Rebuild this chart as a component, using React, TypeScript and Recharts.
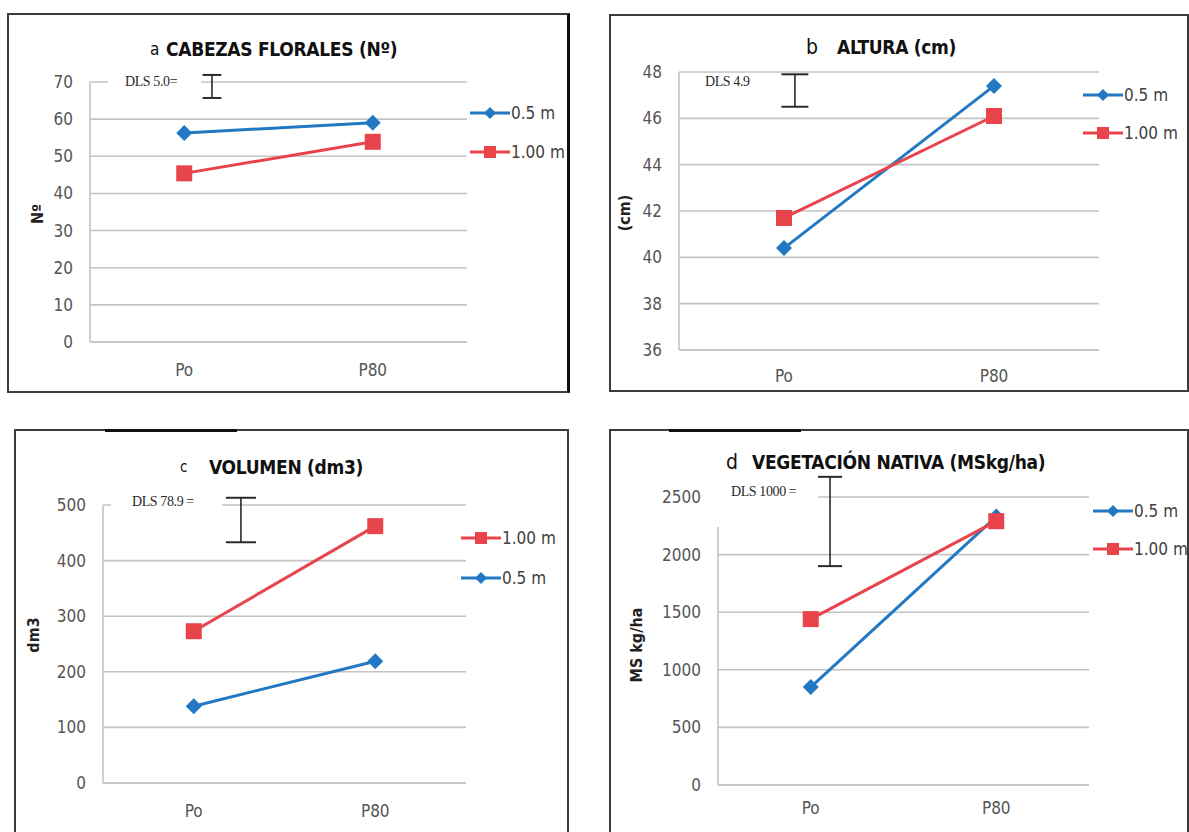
import { LineChart, Line, XAxis, YAxis, CartesianGrid, ReferenceLine } from 'recharts';

const periods = ['Po', 'P80'];

// a - cabezas florales (Nº)
const cabezas05 = [56.3, 59.0];
const cabezas100 = [45.4, 53.9];
const cabezasTicks = [0, 10, 20, 30, 40, 50, 60, 70];
const cabezasDls = [65.7, 71.9];

// b - altura (cm)
const altura05 = [40.4, 47.4];
const altura100 = [41.7, 46.1];
const alturaTicks = [36, 38, 40, 42, 44, 46, 48];
const alturaDls = [46.5, 47.9];

// c - volumen (dm3)
const volumen05 = [138, 219];
const volumen100 = [273, 462];
const volumenTicks = [0, 100, 200, 300, 400, 500];
const volumenDls = [433, 513];

// d - vegetación nativa (MS kg/ha)
const vegetacion05 = [850, 2330];
const vegetacion100 = [1440, 2290];
const vegetacionTicks = [0, 500, 1000, 1500, 2000, 2500];
const vegetacionDls = [1900, 2675];

const BLUE = '#2278c3';
const RED = '#e8444c';
const GRID = '#c4c4c4';
const SANS = '"Liberation Sans Narrow", "DejaVu Sans Condensed", "Liberation Sans", sans-serif';
const SERIF = '"Liberation Serif", "DejaVu Serif", serif';

type Shape = 'diamond' | 'square';
interface Series { key: string; name: string; values: number[]; color: string; shape: Shape }

const s05 = (values: number[]): Series => ({ key: 's05', name: '0.5 m', values, color: BLUE, shape: 'diamond' });
const s100 = (values: number[]): Series => ({ key: 's100', name: '1.00 m', values, color: RED, shape: 'square' });

function marker(shape: Shape, color: string, cx: number, cy: number, r: number, key?: string) {
  if (shape === 'diamond') {
    return <path key={key} d={`M${cx},${cy - r}L${cx + r},${cy}L${cx},${cy + r}L${cx - r},${cy}Z`} fill={color} />;
  }
  return <rect key={key} x={cx - r} y={cy - r} width={r * 2} height={r * 2} fill={color} />;
}

interface PanelProps {
  box: { left: number; top: number; width: number; height: number };
  margin: { top: number; right: number; bottom: number };
  yWidth: number;
  xTickMargin: number;
  ticks: number[];
  series: Series[];
  letter: string; letterX: number; letterSize: number;
  title: string; titleX: number; titleY: number;
  yLabel: string; yLabelX: number; yLabelY: number;
  legendX: number; legendY: number[];
  dlsText: string; dlsX: number; dlsY: number; dlsCover?: number[];
  dls: number[]; dlsAt: number; capHalf: number;
  axisTop?: number;
  topStripe?: number[];
  thickRight?: boolean;
}

function Panel(p: PanelProps) {
  const data = periods.map((period, i) => {
    const row: Record<string, number | string> = { x: i + 0.5, period };
    p.series.forEach(s => { row[s.key] = s.values[i]; });
    return row;
  });
  const { box } = p;
  const open = box.top > 400; // lower panels run off the page

  return (
    <>
      <div style={{ position: 'absolute', left: box.left, top: box.top }}>
        <LineChart
          width={box.width}
          height={box.height}
          data={data}
          margin={{ top: p.margin.top, right: p.margin.right, bottom: 0, left: 0 }}
        >
          <CartesianGrid vertical={false} stroke={GRID} strokeWidth={1.6} />
          <XAxis
            type="number"
            dataKey="x"
            domain={[0, 2]}
            ticks={[0.5, 1.5]}
            tickFormatter={(v: number) => periods[Math.floor(v)]}
            height={p.margin.bottom}
            tickLine={false}
            tickSize={0}
            tickMargin={p.xTickMargin}
            axisLine={{ stroke: GRID, strokeWidth: 1.6 }}
            tick={{ fill: '#555', fontSize: 17, fontFamily: SANS }}
          />
          <YAxis
            type="number"
            domain={[p.ticks[0], p.ticks[p.ticks.length - 1]]}
            ticks={p.ticks}
            interval={0}
            width={p.yWidth}
            tickLine={false}
            tickSize={0}
            tickMargin={17}
            axisLine={p.axisTop === undefined ? { stroke: GRID, strokeWidth: 1.6 } : false}
            tick={{ fill: '#555', fontSize: 17, fontFamily: SANS }}
          />
          {p.axisTop !== undefined && (
            <ReferenceLine
              segment={[{ x: 0, y: p.ticks[0] }, { x: 0, y: p.axisTop }]}
              stroke={GRID}
              strokeWidth={1.6}
              ifOverflow="visible"
            />
          )}
          <ReferenceLine segment={[{ x: p.dlsAt, y: p.dls[0] }, { x: p.dlsAt, y: p.dls[1] }]} stroke="#2a2a2a" strokeWidth={1.6} ifOverflow="visible" />
          <ReferenceLine segment={[{ x: p.dlsAt - p.capHalf, y: p.dls[0] }, { x: p.dlsAt + p.capHalf, y: p.dls[0] }]} stroke="#2a2a2a" strokeWidth={2} ifOverflow="visible" />
          <ReferenceLine segment={[{ x: p.dlsAt - p.capHalf, y: p.dls[1] }, { x: p.dlsAt + p.capHalf, y: p.dls[1] }]} stroke="#2a2a2a" strokeWidth={2} ifOverflow="visible" />
          {p.series.map(s => (
            <Line
              key={s.key}
              type="linear"
              dataKey={s.key}
              name={s.name}
              stroke={s.color}
              strokeWidth={3}
              isAnimationActive={false}
              activeDot={false}
              dot={(d: any) => marker(s.shape, s.color, d.cx, d.cy, 8, `${s.key}-${d.index}`)}
            />
          ))}
        </LineChart>
      </div>

      {/* frame */}
      <div
        style={{
          position: 'absolute',
          left: box.left - 1,
          top: box.top - 1,
          width: box.width - 2,
          height: open ? box.height + 20 : box.height - 2,
          border: '2px solid #3c3c3c',
          borderRight: p.thickRight ? '3px solid #111' : '2px solid #3c3c3c',
          pointerEvents: 'none',
        }}
      />
      {p.topStripe && (
        <div style={{ position: 'absolute', left: p.topStripe[0], top: box.top - 1, width: p.topStripe[1] - p.topStripe[0], height: 3, background: '#111' }} />
      )}

      {/* title */}
      <div style={{ position: 'absolute', left: p.letterX, top: p.titleY - 12, lineHeight: '24px', fontFamily: SANS, fontSize: p.letterSize, color: '#111' }}>{p.letter}</div>
      <div style={{ position: 'absolute', left: p.titleX, top: p.titleY - 12, lineHeight: '24px', whiteSpace: 'nowrap', fontFamily: SANS, fontSize: 19, fontWeight: 700, letterSpacing: -0.3, color: '#111' }}>{p.title}</div>

      {/* y label */}
      <div style={{ position: 'absolute', left: p.yLabelX - 60, top: p.yLabelY - 10, width: 120, height: 20, lineHeight: '20px', textAlign: 'center', transform: 'rotate(-90deg)', fontFamily: SANS, fontSize: 16, fontWeight: 700, color: '#222' }}>
        {p.yLabel}
      </div>

      {/* DLS annotation */}
      {p.dlsCover && (
        <div style={{ position: 'absolute', left: p.dlsCover[0], top: p.dlsY - 9, width: p.dlsCover[1] - p.dlsCover[0], height: 18, background: '#fff' }} />
      )}
      <div style={{ position: 'absolute', left: p.dlsX, top: p.dlsY - 9, lineHeight: '18px', whiteSpace: 'nowrap', fontFamily: SERIF, fontSize: 14, letterSpacing: -0.4, color: '#2a2a2a' }}>{p.dlsText}</div>

      {/* legend */}
      {p.series.map((s, i) => (
        <div key={s.key} style={{ position: 'absolute', left: p.legendX, top: p.legendY[i] - 12, height: 24, display: 'flex', alignItems: 'center' }}>
          <svg width={40} height={24}>
            <line x1={0} y1={12} x2={40} y2={12} stroke={s.color} strokeWidth={3} />
            {marker(s.shape, s.color, 20, 12, 6)}
          </svg>
          <span style={{ marginLeft: 1, fontFamily: SANS, fontSize: 17, color: '#404040' }}>{s.name}</span>
        </div>
      ))}
    </>
  );
}

export default function App() {
  return (
    <div style={{ position: 'fixed', left: 0, top: 0, width: 1189, height: 832, overflow: 'hidden', background: '#fff' }}>
      <Panel
        box={{ left: 8, top: 14, width: 560, height: 378 }}
        margin={{ top: 68, right: 101, bottom: 50 }}
        yWidth={82}
        xTickMargin={22}
        ticks={cabezasTicks}
        series={[s05(cabezas05), s100(cabezas100)]}
        letter="a" letterX={150} letterSize={17}
        title="CABEZAS FLORALES (Nº)" titleX={166} titleY={49}
        yLabel="Nº" yLabelX={38} yLabelY={214}
        legendX={470} legendY={[113, 152]}
        dlsText="DLS 5.0=" dlsX={125} dlsY={82} dlsCover={[108, 201]}
        dls={cabezasDls} dlsAt={0.647} capHalf={0.05}
        thickRight
      />
      <Panel
        box={{ left: 610, top: 15, width: 578, height: 376 }}
        margin={{ top: 57, right: 89, bottom: 41 }}
        yWidth={69}
        xTickMargin={20}
        ticks={alturaTicks}
        series={[s05(altura05), s100(altura100)]}
        letter="b" letterX={806} letterSize={21}
        title="ALTURA (cm)" titleX={837} titleY={47}
        yLabel="(cm)" yLabelX={625} yLabelY={213}
        legendX={1083} legendY={[95, 133]}
        dlsText="DLS 4.9" dlsX={705} dlsY={82}
        dls={alturaDls} dlsAt={0.552} capHalf={0.064}
      />
      <Panel
        box={{ left: 15, top: 430, width: 553, height: 402 }}
        margin={{ top: 75, right: 102, bottom: 49 }}
        yWidth={88}
        xTickMargin={22}
        ticks={volumenTicks}
        series={[s100(volumen100), s05(volumen05)]}
        letter="c" letterX={180} letterSize={15}
        title="VOLUMEN (dm3)" titleX={209} titleY={467}
        yLabel="dm3" yLabelX={34} yLabelY={635}
        legendX={461} legendY={[538, 578]}
        dlsText="DLS 78.9 =" dlsX={132} dlsY={502} dlsCover={[111, 222]}
        dls={volumenDls} dlsAt={0.76} capHalf={0.083}
        topStripe={[105, 237]}
      />
      <Panel
        box={{ left: 610, top: 430, width: 578, height: 402 }}
        margin={{ top: 67, right: 99, bottom: 47 }}
        yWidth={108}
        xTickMargin={17}
        ticks={vegetacionTicks}
        series={[s05(vegetacion05), s100(vegetacion100)]}
        letter="d" letterX={726} letterSize={21}
        title="VEGETACIÓN NATIVA (MSkg/ha)" titleX={752} titleY={462}
        yLabel="MS kg/ha" yLabelX={637} yLabelY={645}
        legendX={1093} legendY={[511, 549]}
        dlsText="DLS 1000 =" dlsX={731} dlsY={492} dlsCover={[718, 818]}
        dls={vegetacionDls} dlsAt={0.604} capHalf={0.065}
        axisTop={2240}
        topStripe={[669, 801]}
      />
    </div>
  );
}
